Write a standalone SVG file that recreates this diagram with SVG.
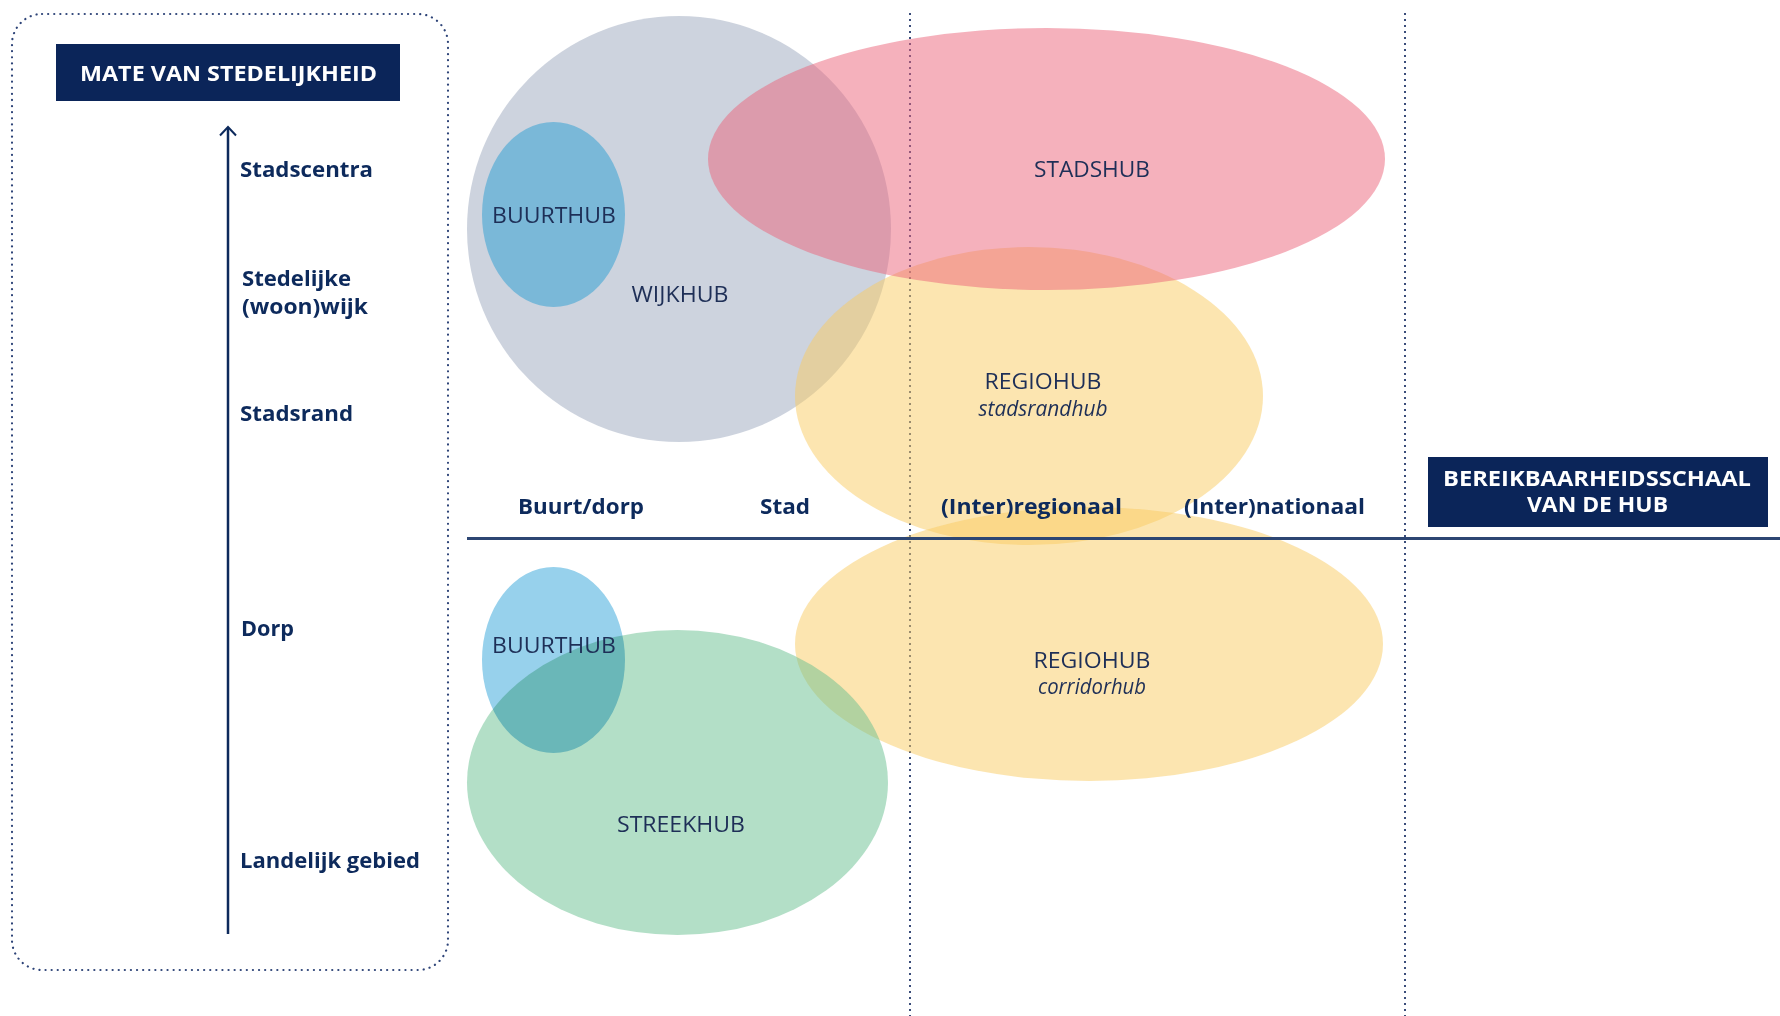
<svg xmlns="http://www.w3.org/2000/svg" width="1780" height="1016" viewBox="0 0 1780 1016">
<style>
.axl{font-family:"Open Sans","Noto Sans",sans-serif;font-weight:700;font-size:22px;fill:#0d2a5c}
.hub{font-family:"Open Sans","Noto Sans",sans-serif;font-weight:400;font-size:21px;fill:#1e2f57;text-anchor:middle}
.hubi{font-family:"Open Sans","Noto Sans",sans-serif;font-style:italic;font-size:21px;fill:#1e2f57;text-anchor:middle}
.box{fill:#0b2559}
.boxt{font-family:"Open Sans","Noto Sans",sans-serif;font-weight:700;font-size:21px;fill:#ffffff;text-anchor:middle}
.vdot{stroke:#3a4d7a;stroke-width:2;stroke-dasharray:2 4;fill:none}
.mult{mix-blend-mode:multiply}
</style>
<rect width="1780" height="1016" fill="#ffffff"/>
<g id="frame">
<rect x="12" y="14" width="436" height="956" rx="30" ry="30" fill="none" stroke="#2e4478" stroke-width="2.2" stroke-linecap="round" stroke-dasharray="0.1 6"/>
</g>
<g id="gridlines">
<line class="vdot" x1="910" y1="13" x2="910" y2="1016"/>
<line class="vdot" x1="1405" y1="13" x2="1405" y2="1016"/>
</g>
<g id="wijkhub">
<ellipse cx="679" cy="229" rx="212" ry="213" fill="#9ba7bd" fill-opacity="0.5"/>
<text class="hub" x="680" y="302" textLength="97" lengthAdjust="spacingAndGlyphs">WIJKHUB</text>
</g>
<g id="buurthub-top">
<ellipse cx="553.5" cy="214.5" rx="71.5" ry="92.5" fill="#7ab8d8"/>
<text class="hub" x="554" y="223" textLength="124" lengthAdjust="spacingAndGlyphs">BUURTHUB</text>
</g>
<g id="regiohub-stadsrand">
<ellipse cx="1029" cy="396" rx="234" ry="149" fill="#f9cb61" fill-opacity="0.5"/>
<text class="hub" x="1043" y="389" textLength="117" lengthAdjust="spacingAndGlyphs">REGIOHUB</text>
<text class="hubi" x="1043" y="416" textLength="129" lengthAdjust="spacingAndGlyphs">stadsrandhub</text>
</g>
<g id="stadshub">
<ellipse cx="1046.5" cy="159" rx="338.5" ry="131" fill="#eb6379" fill-opacity="0.5"/>
<text class="hub" x="1092" y="177" textLength="116" lengthAdjust="spacingAndGlyphs">STADSHUB</text>
</g>
<g id="regiohub-corridor">
<ellipse cx="1089" cy="644" rx="294" ry="137" fill="#f9cb61" fill-opacity="0.5"/>
<text class="hub" x="1092" y="668" textLength="117" lengthAdjust="spacingAndGlyphs">REGIOHUB</text>
<text class="hubi" x="1092" y="694" textLength="108" lengthAdjust="spacingAndGlyphs">corridorhub</text>
</g>
<g id="streekhub">
<ellipse cx="677.5" cy="782.5" rx="210.5" ry="152.5" fill="#67bf8f" fill-opacity="0.5"/>
<text class="hub" x="681" y="832" textLength="128" lengthAdjust="spacingAndGlyphs">STREEKHUB</text>
</g>
<g id="buurthub-bottom">
<ellipse class="mult" cx="553.5" cy="660" rx="71.5" ry="93" fill="#97d1ec"/>
<text class="hub" x="554" y="653" textLength="124" lengthAdjust="spacingAndGlyphs">BUURTHUB</text>
</g>
<g id="connectors">
<line x1="228" y1="934" x2="228" y2="128" stroke="#0d2a5c" stroke-width="2.5"/>
<polyline points="220,135.5 228,127 236,135.5" fill="none" stroke="#0d2a5c" stroke-width="2"/>
<line x1="467" y1="538.5" x2="1780" y2="538.5" stroke="#2d4673" stroke-width="2.8"/>
</g>
<g id="title-stedelijkheid">
<rect class="box" x="56" y="44" width="344" height="57"/>
<text class="boxt" x="228.5" y="81" textLength="297" lengthAdjust="spacingAndGlyphs">MATE VAN STEDELIJKHEID</text>
</g>
<g id="title-bereikbaarheid">
<rect class="box" x="1428" y="457" width="340" height="70"/>
<text class="boxt" x="1597" y="486" textLength="308" lengthAdjust="spacingAndGlyphs">BEREIKBAARHEIDSSCHAAL</text>
<text class="boxt" x="1597.5" y="512" textLength="141" lengthAdjust="spacingAndGlyphs">VAN DE HUB</text>
</g>
<g id="y-labels">
<text class="axl" x="240" y="177" textLength="133" lengthAdjust="spacingAndGlyphs">Stadscentra</text>
<text class="axl" x="242" y="285.5" font-size="20" textLength="109" lengthAdjust="spacingAndGlyphs">Stedelijke</text>
<text class="axl" x="242" y="313.5" font-size="20" textLength="126" lengthAdjust="spacingAndGlyphs">(woon)wijk</text>
<text class="axl" x="240" y="421" textLength="113" lengthAdjust="spacingAndGlyphs">Stadsrand</text>
<text class="axl" x="241" y="636" textLength="53" lengthAdjust="spacingAndGlyphs">Dorp</text>
<text class="axl" x="240" y="868" textLength="180" lengthAdjust="spacingAndGlyphs">Landelijk gebied</text>
</g>
<g id="x-labels">
<text class="axl" x="518" y="514" textLength="126" lengthAdjust="spacingAndGlyphs">Buurt/dorp</text>
<text class="axl" x="760" y="514" textLength="50" lengthAdjust="spacingAndGlyphs">Stad</text>
<text class="axl" x="941" y="514" textLength="181" lengthAdjust="spacingAndGlyphs">(Inter)regionaal</text>
<text class="axl" x="1184" y="514" textLength="181" lengthAdjust="spacingAndGlyphs">(Inter)nationaal</text>
</g>
</svg>
